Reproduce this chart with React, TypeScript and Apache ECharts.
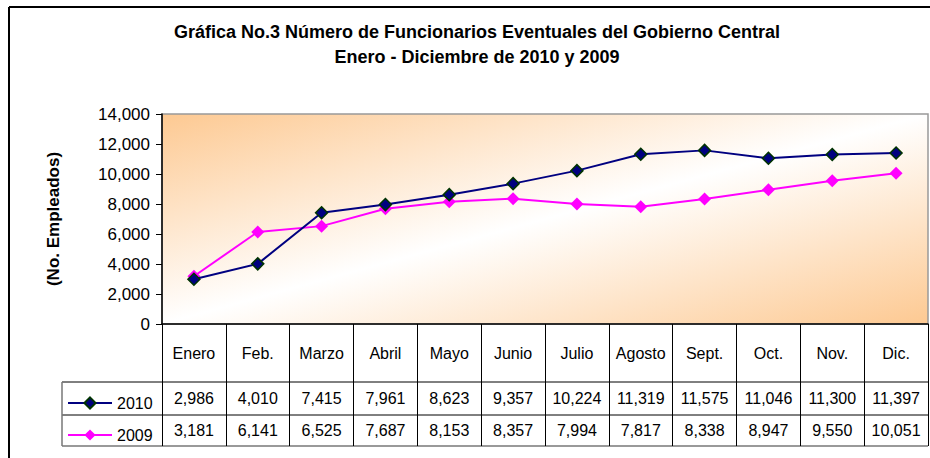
import React, { useEffect, useRef } from "react";
import * as echarts from "echarts";

const months = ["Enero", "Feb.", "Marzo", "Abril", "Mayo", "Junio", "Julio", "Agosto", "Sept.", "Oct.", "Nov.", "Dic."];
const series2010 = [2986, 4010, 7415, 7961, 8623, 9357, 10224, 11319, 11575, 11046, 11300, 11397];
const series2009 = [3181, 6141, 6525, 7687, 8153, 8357, 7994, 7817, 8338, 8947, 9550, 10051];
const seriesNames = ["2010", "2009"];
const yTicks = { min: 0, max: 14000, interval: 2000 };
const titleLines = [
  "Gráfica No.3 Número de Funcionarios Eventuales del Gobierno Central",
  "Enero - Diciembre de 2010 y 2009",
];
const yTitle = "(No. Empleados)";

const FONT = "'Liberation Sans', Arial, sans-serif";
const fmt = (v: number) => v.toLocaleString("en-US");

export default function App() {
  const ref = useRef<HTMLDivElement>(null);
  useEffect(() => {
    if (!ref.current) return;
    const chart = echarts.init(ref.current, undefined, { renderer: "svg" });
    const peach = "#FDC992";
    chart.setOption({
      animation: false,
      backgroundColor: "#ffffff",
      textStyle: { fontFamily: FONT },
      title: {
        text: titleLines.join("\n"),
        left: 477,
        top: 19,
        padding: 0,
        textAlign: "center",
        textStyle: { fontFamily: FONT, fontSize: 18, fontWeight: "bold", color: "#000", lineHeight: 25 },
      },
      legend: {
        orient: "vertical",
        left: 62,
        top: 390,
        itemWidth: 44,
        itemHeight: 14,
        itemGap: 16,
        textStyle: { fontFamily: FONT, fontSize: 16, color: "#000", lineHeight: 16 },
        data: seriesNames,
      },
      grid: {
        left: 162,
        top: 114,
        right: 2,
        bottom: 134,
        show: true,
        borderColor: "#999999",
        borderWidth: 1.5,
        backgroundColor: new echarts.graphic.LinearGradient(0, 0, 1, 1, [
          { offset: 0, color: peach },
          { offset: 0.5, color: "#ffffff" },
          { offset: 1, color: peach },
        ]),
      },
      xAxis: {
        type: "category",
        data: months,
        boundaryGap: true,
        axisLine: { lineStyle: { color: "#000", width: 1.5 } },
        axisTick: { show: true, length: 122, lineStyle: { color: "#000", width: 1 } },
        axisLabel: {
          interval: 0,
          margin: 0,
          color: "#000",
          fontFamily: FONT,
          fontSize: 16,
          formatter: (value: string, index: number) =>
            `{h|${value}}\n{a|${fmt(series2010[index])}}\n{b|${fmt(series2009[index])}}`,
          rich: {
            h: { lineHeight: 58, fontSize: 16, fontFamily: FONT, color: "#000" },
            a: { lineHeight: 33, fontSize: 16, fontFamily: FONT, color: "#000" },
            b: { lineHeight: 31, fontSize: 16, fontFamily: FONT, color: "#000" },
          },
        },
        splitLine: { show: false },
      },
      yAxis: {
        type: "value",
        min: yTicks.min,
        max: yTicks.max,
        interval: yTicks.interval,
        name: yTitle,
        nameLocation: "middle",
        nameRotate: 90,
        nameGap: 100,
        nameTextStyle: { fontFamily: FONT, fontSize: 17, fontWeight: "bold", color: "#000" },
        axisLine: { show: true, lineStyle: { color: "#000", width: 1.5 } },
        axisTick: { show: true, length: 6, lineStyle: { color: "#000" } },
        axisLabel: { color: "#000", fontFamily: FONT, fontSize: 17, margin: 12, formatter: (v: number) => fmt(v) },
        splitLine: { show: false },
      },
      series: [
        {
          name: seriesNames[0],
          type: "line",
          data: series2010,
          symbol: "diamond",
          symbolSize: 12,
          z: 3,
          lineStyle: { color: "#000080", width: 2 },
          itemStyle: { color: "#000080", borderColor: "#003300", borderWidth: 1.5 },
        },
        {
          name: seriesNames[1],
          type: "line",
          data: series2009,
          symbol: "diamond",
          symbolSize: 13,
          z: 2,
          lineStyle: { color: "#FF00FF", width: 2 },
          itemStyle: { color: "#FF00FF" },
        },
      ],
      graphic: [
        { type: "line", shape: { x1: 9, y1: 7, x2: 930, y2: 7 }, style: { stroke: "#000", lineWidth: 2 } },
        { type: "line", shape: { x1: 9, y1: 7, x2: 9, y2: 458 }, style: { stroke: "#000", lineWidth: 2 } },
        { type: "line", shape: { x1: 62, y1: 382, x2: 928, y2: 382 }, style: { stroke: "#000", lineWidth: 1 } },
        { type: "line", shape: { x1: 62, y1: 415, x2: 928, y2: 415 }, style: { stroke: "#000", lineWidth: 1 } },
        { type: "line", shape: { x1: 62, y1: 446, x2: 928, y2: 446 }, style: { stroke: "#777", lineWidth: 1.5 } },
        { type: "line", shape: { x1: 62, y1: 382, x2: 62, y2: 446 }, style: { stroke: "#777", lineWidth: 1.5 } },
      ],
    });
    return () => chart.dispose();
  }, []);
  return <div ref={ref} style={{ position: "absolute", left: 0, top: 0, width: 930, height: 458 }} />;
}
